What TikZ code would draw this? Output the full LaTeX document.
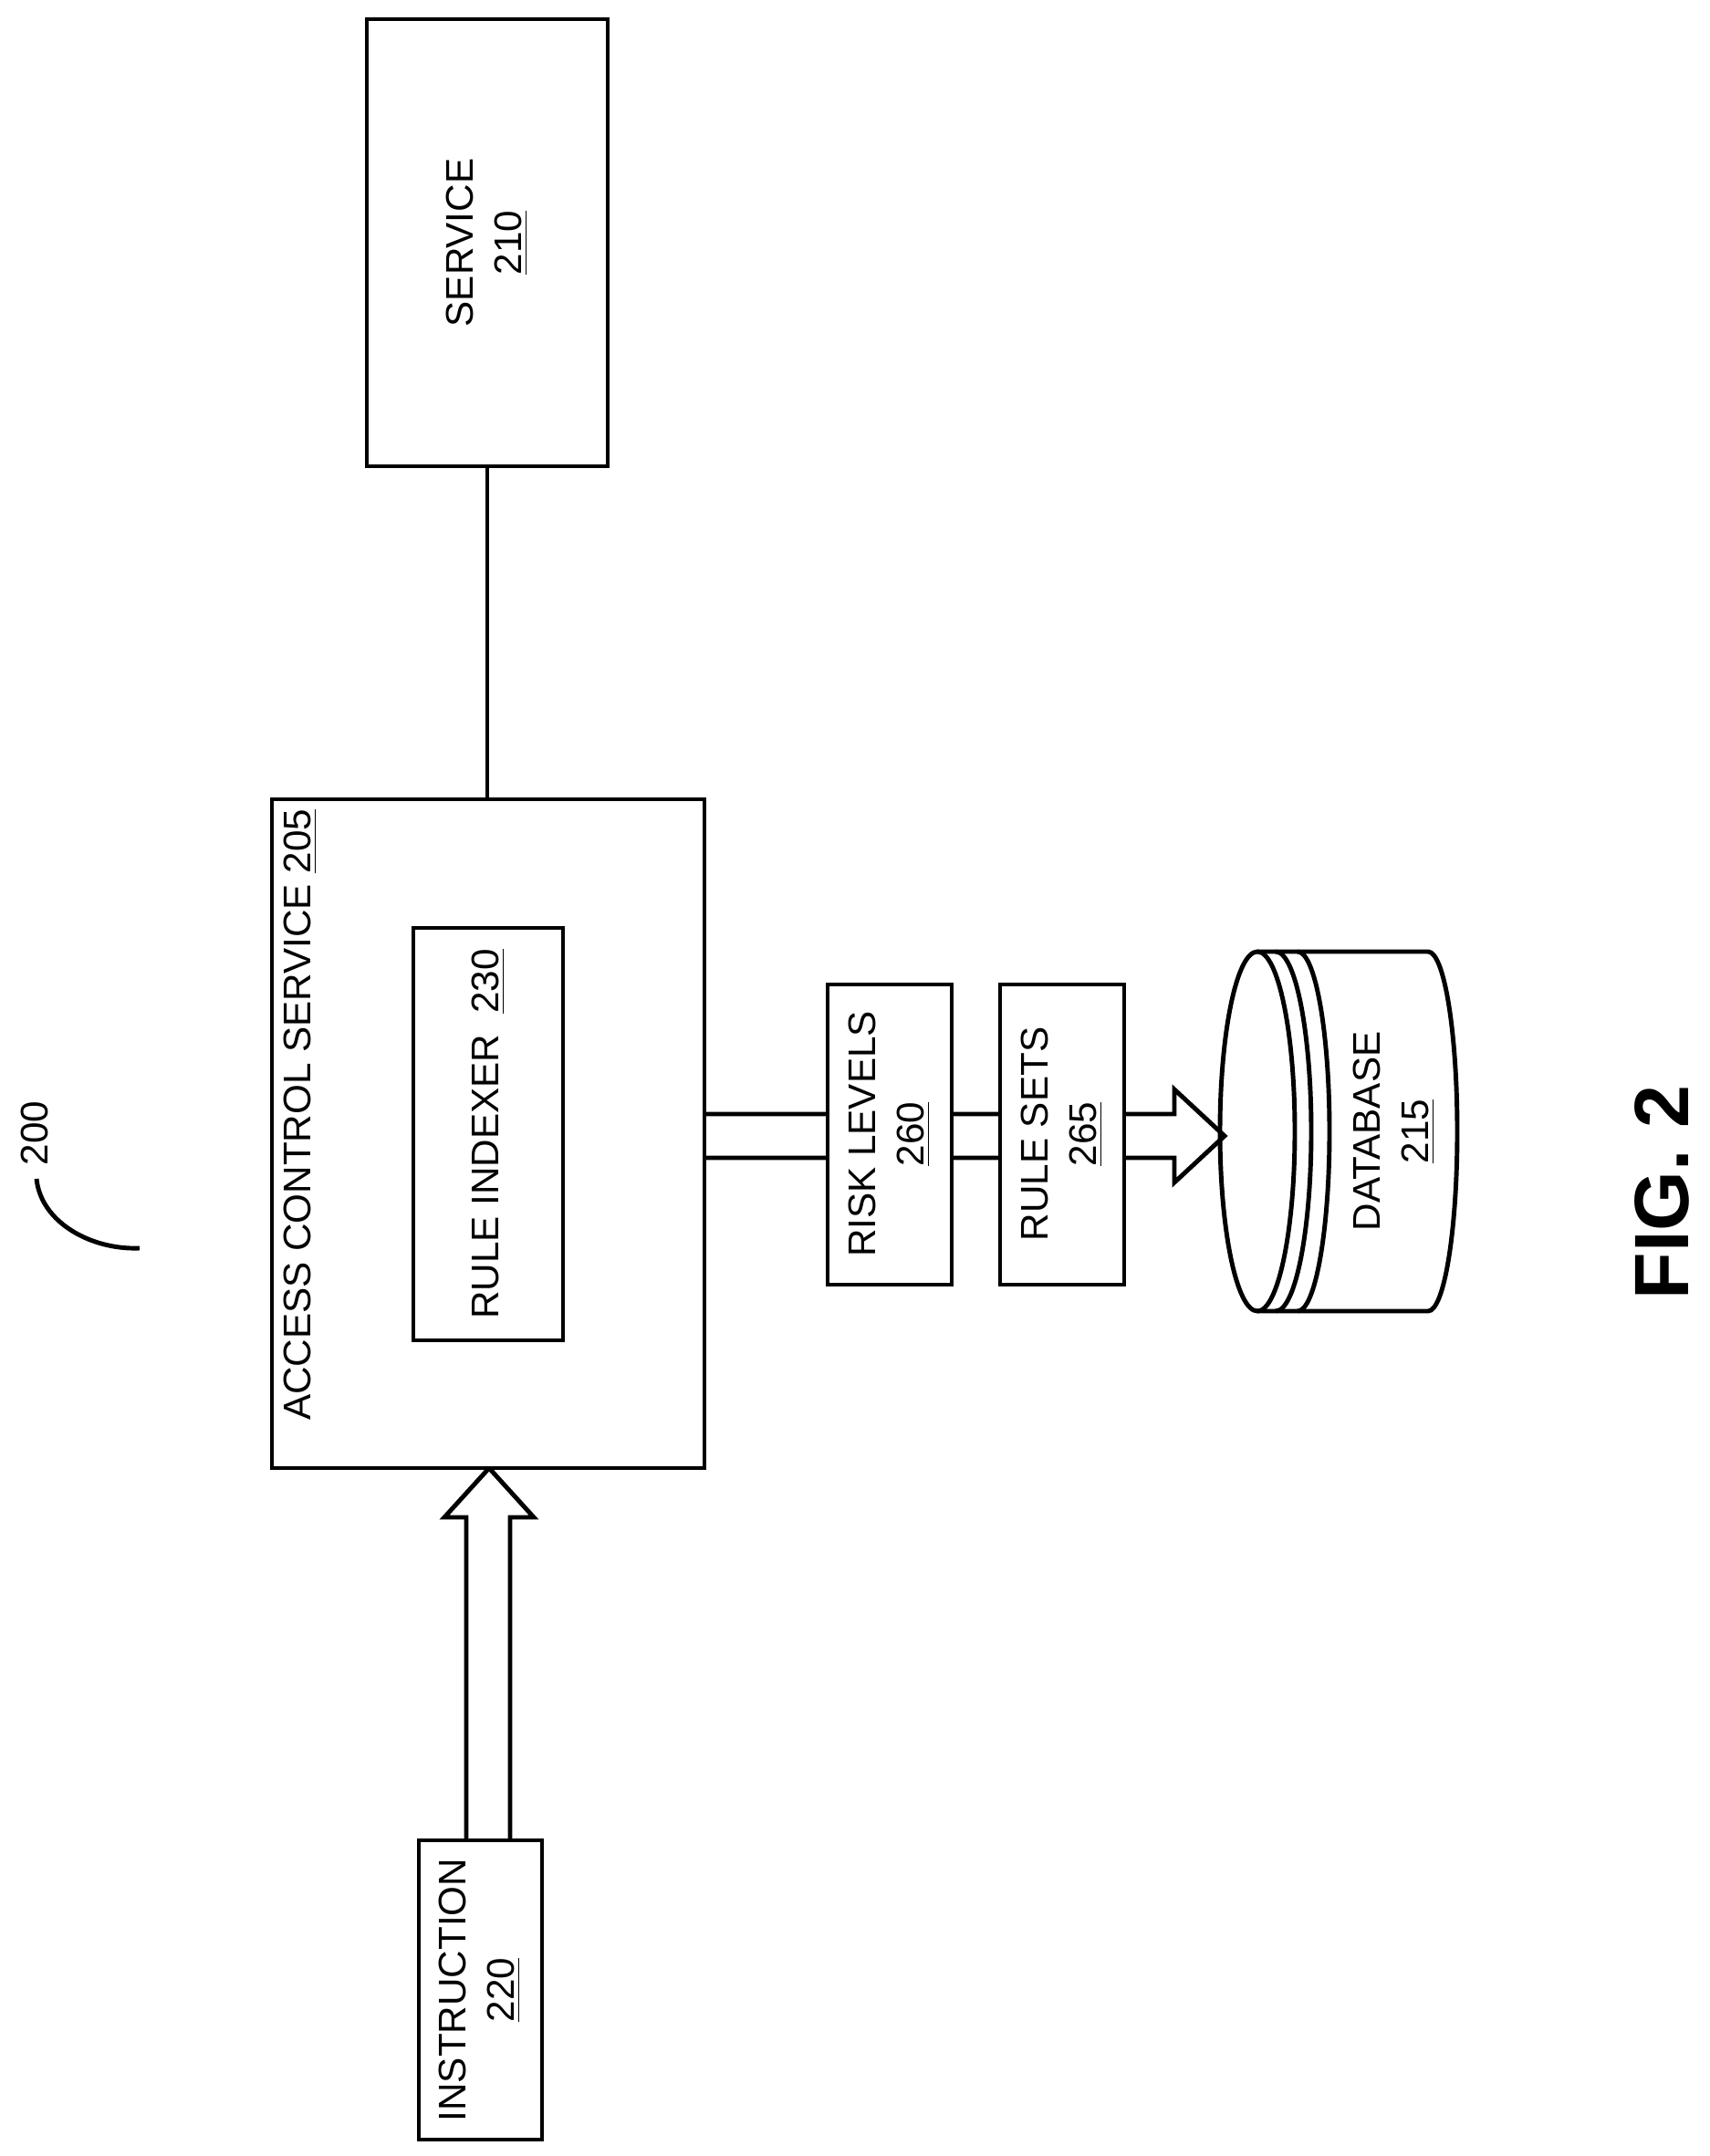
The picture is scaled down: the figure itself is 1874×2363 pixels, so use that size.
\documentclass[tikz,border=0pt]{standalone}
\usepackage{fontspec}
\setmainfont{Liberation Sans}
\begin{document}
\begin{tikzpicture}[x=0.01cm,y=-0.01cm,line width=1.4pt,
  box/.style={draw,fill=white,line width=1.4pt},
  lbl/.style={rotate=90,font=\fontsize{12}{15}\selectfont,align=center}]
\useasboundingbox (0,0) rectangle (1874,2363);
% arrows (drawn first so boxes cover them)
\coordinate (a1) at (772,1221);
\draw[fill=white] (a1) -- (1287,1221) -- (1287,1194) -- (1342,1245) -- (1287,1296) -- (1287,1269) -- (772,1269);
\draw[fill=white] (511,2017) -- (511,1663) -- (487,1663) -- (536,1609) -- (585,1663) -- (559,1663) -- (559,2017);
% boxes
\draw[box] (402,21) rectangle (666,511);
\node[lbl] (svc) at (534,266) {SERVICE\\\underline{210}};
\draw[box] (298,876) rectangle (772,1609);
\node (acs) at (535,1242) {};
\node[lbl,anchor=south west] (acst) at (362,1571) {ACCESS CONTROL SERVICE \underline{205}};
\draw[box] (453,1017) rectangle (617,1469);
\node[lbl] (ri) at (535,1243) {RULE INDEXER~~\underline{230}};
\draw[box] (459,2017) rectangle (594,2345);
\node[lbl] (ins) at (526,2181) {INSTRUCTION\\\underline{220}};
\draw[box] (907,1079) rectangle (1043,1408);
\node[lbl] (rl) at (975,1243) {RISK LEVELS\\\underline{260}};
\draw[box] (1096,1079) rectangle (1232,1408);
\node[lbl] (rs) at (1164,1243) {RULE SETS\\\underline{265}};
\draw (534,511) -- (534,876);
% database
\draw[fill=white] (1378,1043) -- (1565,1043) arc[start angle=-90,end angle=90,x radius=32,y radius=197] -- (1378,1437);
\draw (1378,1240) ellipse[x radius=41,y radius=197];
\draw (1398,1043) arc[start angle=-90,end angle=90,x radius=39,y radius=197];
\draw (1422,1043) arc[start angle=-90,end angle=90,x radius=35,y radius=197];
\node[lbl] (db) at (1528,1240) {DATABASE\\\underline{215}};
% 200
\node[rotate=90,font=\fontsize{12}{15}\selectfont] (n200) at (38,1242) {200};
\draw (40,1292) .. controls (45,1340) and (100,1370) .. (153,1368);
\node[rotate=90,font=\bfseries\fontsize{24}{28}\selectfont] (fig) at (1821,1307) {FIG. 2};
\end{tikzpicture}
\end{document}
